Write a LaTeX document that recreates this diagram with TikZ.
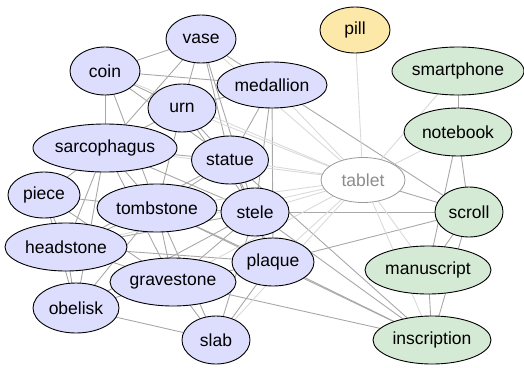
\documentclass[tikz,border=0pt]{standalone}
\usepackage{fontspec}
\setmainfont{Liberation Sans}
\usetikzlibrary{shapes.geometric,backgrounds}
\definecolor{bluefill}{HTML}{DDDDFD}
\definecolor{greenfill}{HTML}{D5EAD5}
\definecolor{yellowfill}{HTML}{FCE8A8}
\definecolor{edgegray}{HTML}{A8A8A8}
\definecolor{edgelight}{HTML}{DADADA}
\tikzset{
  wnode/.style={ellipse, draw=black, line width=0.9pt, inner sep=0pt,
    font=\fontsize{17.5}{17.5}\selectfont},
  bnode/.style={wnode, fill=bluefill},
  gnode/.style={wnode, fill=greenfill},
  ynode/.style={wnode, fill=yellowfill},
  tnode/.style={ellipse, draw=gray!80, line width=0.8pt, fill=white, inner sep=0pt,
    text=gray!90, font=\fontsize{17.5}{17.5}\selectfont},
  sz/.style 2 args={minimum width=#1pt, minimum height=#2pt},
  edge/.style={draw=edgegray, line width=0.9pt},
  ledge/.style={draw=edgelight, line width=0.9pt},
}
\begin{document}
\begin{tikzpicture}[x=1pt,y=-1pt]
\useasboundingbox (0,0) rectangle (524,367);
% nodes
\node[bnode, sz={70}{48}] (vase) at (201,39) {vase};
\node[bnode, sz={70}{48}] (coin) at (105,71) {coin};
\node[bnode, sz={110}{46}] (medallion) at (272,85) {medallion};
\node[bnode, sz={68}{48}] (urn) at (182,108) {urn};
\node[ynode, sz={70}{46}] (pill) at (355,30) {pill};
\node[gnode, sz={132}{48}] (smartphone) at (458,71) {smartphone};
\node[gnode, sz={108}{48}] (notebook) at (458,132) {notebook};
\node[bnode, sz={144}{48}] (sarcophagus) at (105,148) {sarcophagus};
\node[bnode, sz={77}{48}] (statue) at (230,160) {statue};
\node[tnode, sz={84}{45}] (tablet) at (363,180) {tablet};
\node[bnode, sz={72}{46}] (piece) at (44,195) {piece};
\node[bnode, sz={120}{48}] (tombstone) at (157,208) {tombstone};
\node[bnode, sz={68}{48}] (stele) at (255,212) {stele};
\node[gnode, sz={68}{50}] (scroll) at (469,212) {scroll};
\node[bnode, sz={122}{48}] (headstone) at (66,247) {headstone};
\node[bnode, sz={82}{48}] (plaque) at (273,262) {plaque};
\node[gnode, sz={126}{48}] (manuscript) at (428,270) {manuscript};
\node[bnode, sz={126}{48}] (gravestone) at (173,282) {gravestone};
\node[bnode, sz={86}{50}] (obelisk) at (76,308) {obelisk};
\node[bnode, sz={68}{48}] (slab) at (216,340) {slab};
\node[gnode, sz={118}{48}] (inscription) at (432,340) {inscription};
% edges
\begin{pgfonlayer}{background}
\foreach \a/\b in {
  smartphone/notebook, notebook/scroll, notebook/manuscript, scroll/manuscript,
  scroll/inscription, manuscript/inscription, tablet/scroll,
  stele/scroll, plaque/scroll, stele/inscription, plaque/inscription,
  tombstone/inscription, gravestone/inscription, medallion/scroll, statue/inscription,
  vase/coin, vase/urn, vase/medallion, vase/statue, vase/sarcophagus, vase/stele,
  coin/medallion, coin/urn, coin/sarcophagus, coin/tombstone, coin/statue,
  urn/medallion, urn/sarcophagus, urn/statue, urn/stele, urn/tombstone,
  medallion/statue, medallion/stele, medallion/plaque,
  sarcophagus/statue, sarcophagus/piece, sarcophagus/tombstone, sarcophagus/headstone,
  sarcophagus/gravestone, sarcophagus/obelisk, sarcophagus/stele,
  statue/stele, statue/tombstone, statue/plaque, statue/headstone,
  piece/tombstone, piece/headstone, piece/gravestone, piece/obelisk,
  tombstone/stele, tombstone/headstone, tombstone/gravestone, tombstone/obelisk,
  tombstone/plaque, tombstone/slab,
  stele/plaque, stele/gravestone, stele/headstone,
  headstone/gravestone, headstone/obelisk, headstone/plaque,
  gravestone/obelisk, gravestone/slab, gravestone/plaque,
  obelisk/slab, obelisk/stele, plaque/slab, slab/stele}
  \path[edge] (\a.center) -- (\b.center);
\foreach \a/\b in {
  tablet/pill, tablet/smartphone, tablet/notebook, tablet/manuscript, tablet/inscription,
  tablet/medallion, tablet/urn, tablet/statue, tablet/stele, tablet/plaque,
  tablet/vase, tablet/sarcophagus, tablet/tombstone, tablet/gravestone, tablet/headstone,
  tablet/coin, tablet/slab}
  \path[ledge] (\a.center) -- (\b.center);
\end{pgfonlayer}
\end{tikzpicture}
\end{document}
